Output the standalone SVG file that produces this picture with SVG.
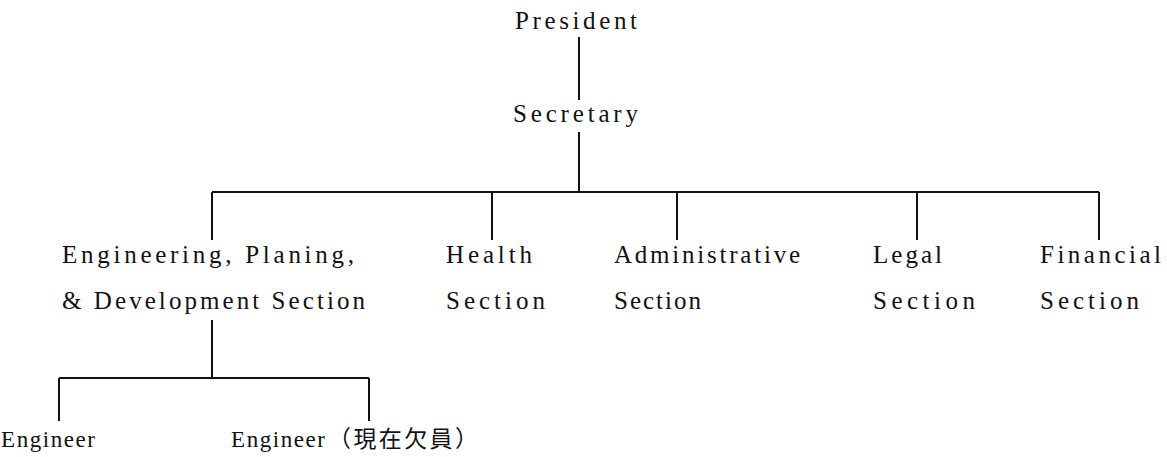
<svg xmlns="http://www.w3.org/2000/svg" width="1167" height="457" viewBox="0 0 1167 457">
<style>
text{font-family:"Liberation Serif","Noto Sans CJK JP",serif;font-size:25px;fill:#111;}
.s{font-size:23px;}
.j{font-family:"Noto Sans CJK JP",sans-serif;font-size:23px;}
.c{stroke:#111;stroke-width:2;fill:none;}
</style>
<rect width="1167" height="457" fill="#fff"/>
<g id="connectors">
<path class="c" d="M579 37V100M579 132V192M212 192H1099M212 192V240M492 192V240M677 192V240M917 192V240M1099 192V240"/>
<path class="c" d="M212 320V378M59 378H369M59 378V421M369 378V421"/>
</g>
<g id="president"><text x="515" y="29" textLength="122" lengthAdjust="spacing">President</text></g>
<g id="secretary"><text x="513" y="122" textLength="125" lengthAdjust="spacing">Secretary</text></g>
<g id="engineering"><text x="62" y="263" textLength="292" lengthAdjust="spacing">Engineering, Planing,</text><text x="62" y="309" textLength="303" lengthAdjust="spacing">&amp; Development Section</text></g>
<g id="health"><text x="446" y="263" textLength="86" lengthAdjust="spacing">Health</text><text x="446" y="309" textLength="99" lengthAdjust="spacing">Section</text></g>
<g id="administrative"><text x="614" y="263" textLength="186" lengthAdjust="spacing">Administrative</text><text x="614" y="309" textLength="87" lengthAdjust="spacing">Section</text></g>
<g id="legal"><text x="873" y="263" textLength="69" lengthAdjust="spacing">Legal</text><text x="873" y="309" textLength="102" lengthAdjust="spacing">Section</text></g>
<g id="financial"><text x="1040" y="263" textLength="121" lengthAdjust="spacing">Financial</text><text x="1040" y="309" textLength="99" lengthAdjust="spacing">Section</text></g>
<g id="engineer1"><text class="s" x="1" y="447" textLength="94" lengthAdjust="spacing">Engineer</text></g>
<g id="engineer2"><text class="s" x="231" y="447"><tspan textLength="94" lengthAdjust="spacing">Engineer</tspan><tspan class="j" x="328" textLength="150" lengthAdjust="spacing">（現在欠員）</tspan></text></g>
</svg>
